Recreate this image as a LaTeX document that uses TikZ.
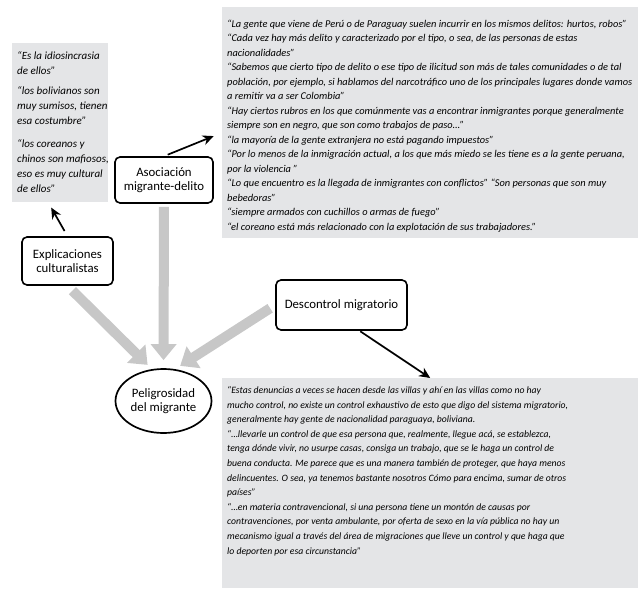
\documentclass[tikz,border=0pt]{standalone}
\usepackage{fontspec}
\setmainfont{Carlito}
\usetikzlibrary{positioning,arrows.meta,shapes.geometric}
\definecolor{quotegray}{RGB}{228,229,231}
\definecolor{arrowgray}{RGB}{199,199,199}

\begin{document}
\begin{tikzpicture}[x=1pt, y=-1pt,
        label_box/.style={draw=black, line width=1.6pt, rounded corners=5pt, fill=white,
          align=center, inner sep=2pt, font=\fontsize{12.8}{14.5}\selectfont},
        quote_box/.style={fill=quotegray, anchor=north west, inner xsep=5pt,
          font=\itshape\fontsize{10.4}{14.5}\selectfont},
        gray_arrow/.style={draw=arrowgray, line width=10pt, -{Triangle[width=25pt,length=16pt]}},
        black_arrow/.style={draw=black, line width=1.7pt, -{Stealth[length=11pt,width=10pt]}}]
        \useasboundingbox (0,0) rectangle (643,597);
        % quotes
        \node[quote_box, inner ysep=6pt, font=\itshape\fontsize{11}{15}\selectfont] (cultural_q) at (12,43)
          {\begin{minipage}[t][147pt][t]{86pt}\begin{tabular}[t]{@{}l@{}}
          “Es la idiosincrasia\\
          de ellos”\\[5pt]
          “los bolivianos son\\
          muy sumisos, tienen\\
          esa costumbre”\\[8pt]
          “los coreanos y\\
          chinos son mafiosos,\\
          eso es muy cultural\\
          de ellos”
        \end{tabular}\end{minipage}};
        \node[quote_box, inner ysep=10pt] (delito_q) at (222,7)
          {\begin{minipage}[t][211pt][t]{406pt}\begin{tabular}[t]{@{}l@{}}
          “La gente que viene de Perú o de Paraguay suelen incurrir en los mismos delitos: hurtos, robos”\\
          “Cada vez hay más delito y caracterizado por el tipo, o sea, de las personas de estas\\
          nacionalidades”\\
          “Sabemos que cierto tipo de delito o ese tipo de ilicitud son más de tales comunidades o de tal\\
          población, por ejemplo, si hablamos del narcotráfico uno de los principales lugares donde vamos\\
          a remitir va a ser Colombia”\\
          “Hay ciertos rubros en los que comúnmente vas a encontrar inmigrantes porque generalmente\\
          siempre son en negro, que son como trabajos de paso…”\\
          “la mayoría de la gente extranjera no está pagando impuestos”\\
          “Por lo menos de la inmigración actual, a los que más miedo se les tiene es a la gente peruana,\\
          por la violencia ”\\
          “Lo que encuentro es la llegada de inmigrantes con conflictos” “Son personas que son muy\\
          bebedoras”\\
          “siempre armados con cuchillos o armas de fuego”\\
          “el coreano está más relacionado con la explotación de sus trabajadores.”
        \end{tabular}\end{minipage}};
        \node[quote_box, inner ysep=5pt, font=\itshape\fontsize{9.7}{14.6}\selectfont] (control_q) at (222,378)
          {\begin{minipage}[t][200pt][t]{406pt}\begin{tabular}[t]{@{}l@{}}
          “Estas denuncias a veces se hacen desde las villas y ahí en las villas como no hay\\
          mucho control, no existe un control exhaustivo de esto que digo del sistema migratorio,\\
          generalmente hay gente de nacionalidad paraguaya, boliviana.\\
          “…llevarle un control de que esa persona que, realmente, llegue acá, se establezca,\\
          tenga dónde vivir, no usurpe casas, consiga un trabajo, que se le haga un control de\\
          buena conducta. Me parece que es una manera también de proteger, que haya menos\\
          delincuentes. O sea, ya tenemos bastante nosotros Cómo para encima, sumar de otros\\
          países”\\
          “…en materia contravencional, si una persona tiene un montón de causas por\\
          contravenciones, por venta ambulante, por oferta de sexo en la vía pública no hay un\\
          mecanismo igual a través del área de migraciones que lleve un control y que haga que\\
          lo deporten por esa circunstancia”
        \end{tabular}\end{minipage}};
        % boxes
        \node[label_box, minimum width=98pt, minimum height=46pt] (asoc) at (164,180) {Asociación\\migrante-delito};
        \node[label_box, minimum width=91pt, minimum height=48pt] (expl) at (67.5,261) {Explicaciones\\culturalistas};
        \node[label_box, minimum width=131pt, minimum height=50pt] (desc) at (341.5,305) {Descontrol migratorio};
        \node[ellipse, draw=black, line width=1.7pt, minimum width=96pt, minimum height=64pt, inner sep=0pt,
          align=center, font=\fontsize{12.8}{14.5}\selectfont] (pel) at (163.5,401) {Peligrosidad\\del migrante};
        % arrows
        \draw[gray_arrow, shorten <=7pt, shorten >=6pt] (expl.south) -- (pel.110);
        \draw[gray_arrow, shorten <=3pt, shorten >=8pt] (asoc.south) -- (pel.north);
        \draw[gray_arrow, shorten <=6pt, shorten >=6pt] (desc.west) -- (pel.70);
        \draw[black_arrow, shorten <=4pt, shorten >=9pt] (asoc.north) -- ([yshift=-10pt]delito_q.west);
        \draw[black_arrow, shorten <=6pt, shorten >=6pt] (expl.north) -- ([xshift=-12pt]cultural_q.south);
        \draw[black_arrow, shorten <=1pt] ([xshift=18pt]desc.south) -- (control_q.north);
      \end{tikzpicture}
\end{document}
